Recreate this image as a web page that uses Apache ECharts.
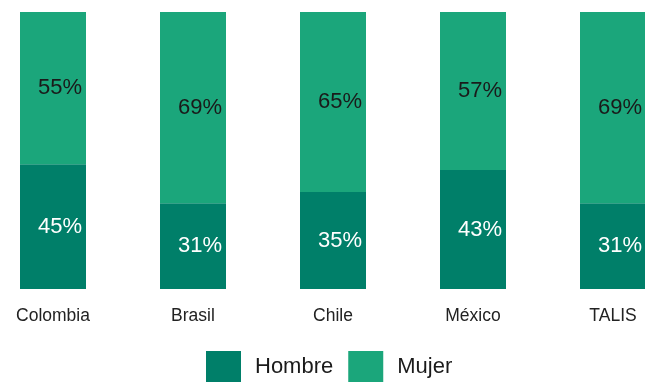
<!DOCTYPE html>
<html>
<head>
<meta charset="utf-8">
<style>
  html, body { margin: 0; padding: 0; background: #ffffff; overflow: hidden; width: 645px; height: 382px; }
  #chart { width: 700px; height: 382px; margin-left: -17px; }
</style>
<script src="https://cdn.jsdelivr.net/npm/echarts@6/dist/echarts.min.js"></script>
</head>
<body>
<div id="chart"></div>
<script>
// Share of teachers by sex (percent)
const categories = ['Colombia', 'Brasil', 'Chile', 'México', 'TALIS'];
const hombre = [45, 31, 35, 43, 31];
const mujer = [55, 69, 65, 57, 69];

const FONT = '"Liberation Sans", Arial, Helvetica, sans-serif';
const DARK = '#007f69';
const LIGHT = '#1ba67b';

const chart = echarts.init(document.getElementById('chart'), null, { renderer: 'canvas' });

chart.setOption({
  animation: false,
  textStyle: { fontFamily: FONT },
  grid: { left: 0, right: 0, top: 12, bottom: 93, containLabel: false },
  legend: {
    top: 351,
    left: 223,
    padding: 0,
    itemWidth: 35,
    itemHeight: 31,
    itemGap: 15,
    icon: 'rect',
    textStyle: { fontFamily: FONT, fontSize: 22, color: '#1a1a1a', padding: [0, 0, 0, 9] },
    data: ['Hombre', 'Mujer']
  },
  xAxis: {
    type: 'category',
    data: categories,
    axisLine: { show: false },
    axisTick: { show: false },
    axisLabel: { fontFamily: FONT, fontSize: 17.5, color: '#222222', margin: 18 }
  },
  yAxis: {
    type: 'value',
    min: 0,
    max: 100,
    show: false,
    splitLine: { show: false }
  },
  series: [
    {
      name: 'Hombre',
      type: 'bar',
      stack: 'total',
      barWidth: 66,
      data: hombre,
      itemStyle: { color: DARK },
      label: {
        show: true,
        position: 'inside',
        offset: [7, 0],
        formatter: p => p.value + '%',
        fontFamily: FONT,
        fontSize: 22,
        color: '#ffffff'
      }
    },
    {
      name: 'Mujer',
      type: 'bar',
      stack: 'total',
      barWidth: 66,
      data: mujer,
      itemStyle: { color: LIGHT },
      label: {
        show: true,
        position: 'inside',
        offset: [7, 0],
        formatter: p => p.value + '%',
        fontFamily: FONT,
        fontSize: 22,
        color: '#1a1a1a'
      }
    }
  ]
});
</script>
</body>
</html>
